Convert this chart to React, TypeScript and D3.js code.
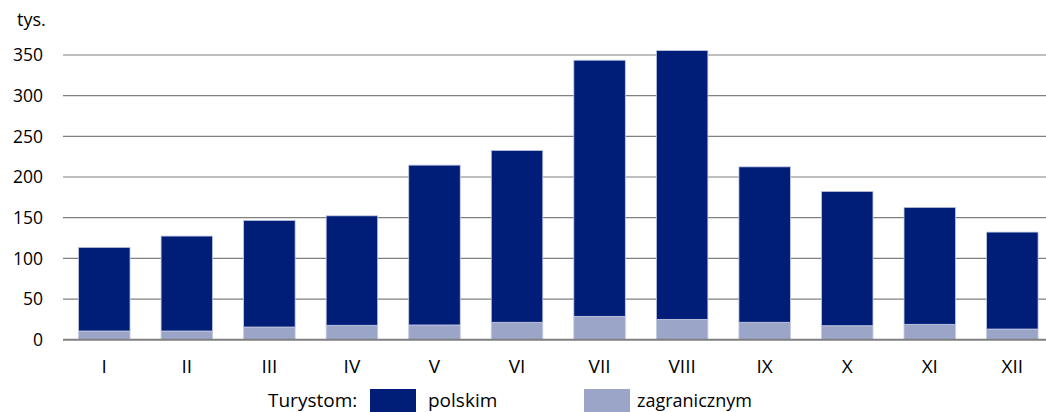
import React from "react";
import * as d3 from "d3";

const months = ["I", "II", "III", "IV", "V", "VI", "VII", "VIII", "IX", "X", "XI", "XII"];
const totals = [113.5, 127.4, 146.7, 152.3, 214.6, 232.7, 343.6, 355.5, 212.5, 182.3, 162.7, 132.3];
const foreign = [10.7, 10.7, 15.6, 17.7, 18.1, 21.4, 28.7, 25.0, 21.4, 17.2, 18.9, 13.1];
const polish = totals.map((t, i) => +(t - foreign[i]).toFixed(1));
const yTicks = [0, 50, 100, 150, 200, 250, 300, 350];
const seriesNames = ["polskim", "zagranicznym"];
const legendTitle = "Turystom:";
const unitLabel = "tys.";

const W = 1046;
const H = 412;
const DARK = "#001e78";
const LIGHT = "#9ba5c8";
const FONT = "'Open Sans', Roboto, sans-serif";

export default function App() {
  const x = d3
    .scaleBand<string>()
    .domain(months)
    .range([63, 63 + 12 * 82.55])
    .paddingInner(0.376)
    .paddingOuter(0.188);
  const y = d3.scaleLinear().domain([0, 350]).range([339.7, 55]);

  const rows = months.map((m, i) => ({ m, polskim: polish[i], zagranicznym: foreign[i] }));
  const stack = d3.stack<any>().keys(["zagranicznym", "polskim"]);
  const stacked = stack(rows);
  const colors: Record<string, string> = { polskim: DARK, zagranicznym: LIGHT };

  return (
    <svg
      width={W}
      height={H}
      style={{ position: "fixed", left: 0, top: 0, display: "block", background: "#fff" }}
      fontFamily={FONT}
    >
      <text x={17} y={26} fontSize={18} fill="#000">
        {unitLabel}
      </text>
      {yTicks.map((t) => (
        <g key={t}>
          {t !== 0 && (
            <line x1={63} x2={W} y1={y(t)} y2={y(t)} stroke="#808080" strokeWidth={1.2} />
          )}
          <text x={43} y={y(t)} dy="0.36em" textAnchor="end" fontSize={17.5} fill="#000">
            {t}
          </text>
        </g>
      ))}
      {stacked.map((s) => (
        <g key={s.key} fill={colors[s.key]}>
          {s.map((d, i) => (
            <rect
              key={i}
              x={x(months[i])!}
              width={x.bandwidth()}
              y={y(d[1])}
              height={y(d[0]) - y(d[1])}
              stroke="#c3cae3"
              strokeWidth={0.8}
            />
          ))}
        </g>
      ))}
      <line x1={63} x2={W} y1={y(0)} y2={y(0)} stroke="#808080" strokeWidth={2} />
      {months.map((m) => (
        <text
          key={m}
          x={x(m)! + x.bandwidth() / 2}
          y={373}
          textAnchor="middle"
          fontSize={19}
          fill="#000"
        >
          {m}
        </text>
      ))}
      <text x={268} y={407} fontSize={19} fill="#000">
        {legendTitle}
      </text>
      <rect x={370} y={389} width={46} height={25} fill={DARK} />
      <text x={428} y={407} fontSize={19} fill="#000">
        {seriesNames[0]}
      </text>
      <rect x={584} y={389} width={46} height={25} fill={LIGHT} />
      <text x={637} y={407} fontSize={18} fill="#000">
        {seriesNames[1]}
      </text>
    </svg>
  );
}
